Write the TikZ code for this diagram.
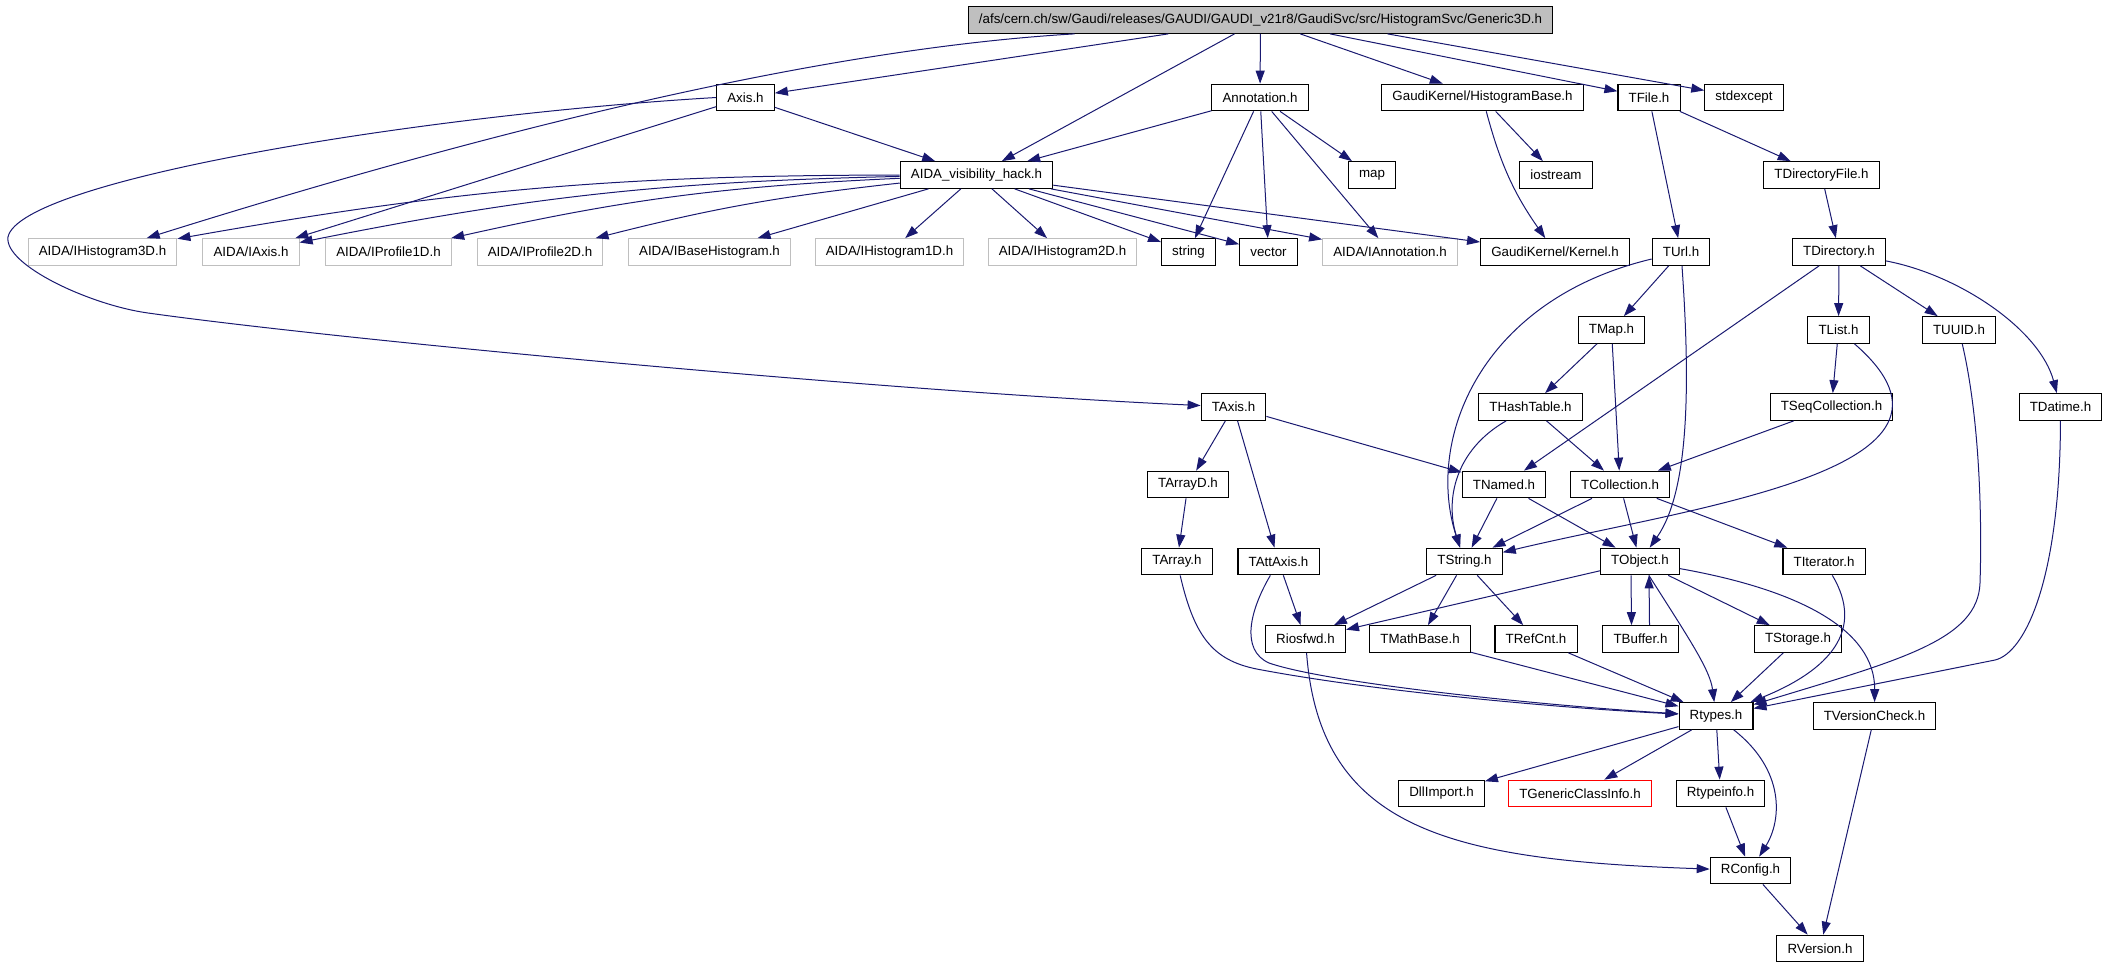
\documentclass[tikz,border=0pt]{standalone}
\usepackage{fontspec}
\setmainfont{Liberation Sans}
\usepackage{tikz}
\usetikzlibrary{arrows.meta,calc}
\definecolor{edgeblue}{HTML}{191970}
\definecolor{boxgrey}{HTML}{BFBFBF}

\begin{document}
\begin{tikzpicture}[x=0.75pt,y=-0.75pt,
  hdr/.style={draw=black,line width=0.8pt,minimum height=20pt,inner xsep=8pt,inner ysep=0pt,font=\fontsize{10pt}{12pt}\selectfont},
  ext/.style={hdr,draw=boxgrey},
  miss/.style={hdr,draw=red},
  dep/.style={edgeblue,line width=0.75pt,-{Triangle[length=9.75pt,width=6.75pt]}}]
\useasboundingbox (0,0) rectangle (2108,968);
% rows of headers
\node[hdr,fill=boxgrey] (gen) at (1260.5,20) {/afs/cern.ch/sw/Gaudi/releases/GAUDI/GAUDI\_v21r8/GaudiSvc/src/HistogramSvc/Generic3D.h};
\node[hdr] (axis) at (745.5,97.5) {Axis.h};
\node[hdr] (annot) at (1260,97.5) {Annotation.h};
\node[hdr] (hbase) at (1482.5,97.5) {GaudiKernel/HistogramBase.h};
\node[hdr] (tfile) at (1649,97.5) {TFile.h};
\node[hdr] (stdexc) at (1744,97.5) {stdexcept};
\node[hdr] (vis) at (976.5,175) {AIDA\_visibility\_hack.h};
\node[hdr] (map) at (1372,175) {map};
\node[hdr] (iostream) at (1556,175) {iostream};
\node[hdr] (tdirfile) at (1821.5,175) {TDirectoryFile.h};
\node[ext] (hist3) at (102.5,252) {AIDA/IHistogram3D.h};
\node[ext] (iaxis) at (251,252) {AIDA/IAxis.h};
\node[ext] (iprof1) at (388.5,252) {AIDA/IProfile1D.h};
\node[ext] (iprof2) at (540,252) {AIDA/IProfile2D.h};
\node[ext] (ibase) at (709.5,252) {AIDA/IBaseHistogram.h};
\node[ext] (hist1) at (889.5,252) {AIDA/IHistogram1D.h};
\node[ext] (hist2) at (1062.5,252) {AIDA/IHistogram2D.h};
\node[hdr] (string) at (1188.5,252) {string};
\node[hdr] (vector) at (1268.5,252) {vector};
\node[ext] (iannot) at (1390,252) {AIDA/IAnnotation.h};
\node[hdr] (kernel) at (1555,252) {GaudiKernel/Kernel.h};
\node[hdr] (turl) at (1681,252) {TUrl.h};
\node[hdr] (tdir) at (1839,252) {TDirectory.h};
\node[hdr] (tmap) at (1611.5,330) {TMap.h};
\node[hdr] (tlist) at (1838.5,330) {TList.h};
\node[hdr] (tuuid) at (1959,330) {TUUID.h};
\node[hdr] (taxis) at (1233.5,407) {TAxis.h};
\node[hdr] (thash) at (1530.5,407) {THashTable.h};
\node[hdr] (tseq) at (1831.5,407) {TSeqCollection.h};
\node[hdr] (tdatime) at (2060.5,407) {TDatime.h};
\node[hdr] (tarrayd) at (1188,484.5) {TArrayD.h};
\node[hdr] (tnamed) at (1504,484.5) {TNamed.h};
\node[hdr] (tcoll) at (1620,484.5) {TCollection.h};
\node[hdr] (tarray) at (1177,561.5) {TArray.h};
\node[hdr] (tattaxis) at (1278.5,561.5) {TAttAxis.h};
\node[hdr] (tstring) at (1464.5,561.5) {TString.h};
\node[hdr] (tobject) at (1640,561.5) {TObject.h};
\node[hdr] (titer) at (1824,561.5) {TIterator.h};
\node[hdr] (riosfwd) at (1305.5,639) {Riosfwd.h};
\node[hdr] (tmathbase) at (1420,639) {TMathBase.h};
\node[hdr] (trefcnt) at (1536,639) {TRefCnt.h};
\node[hdr] (tbuffer) at (1640.5,639) {TBuffer.h};
\node[hdr] (tstorage) at (1798,639) {TStorage.h};
\node[hdr] (rtypes) at (1716,716) {Rtypes.h};
\node[hdr] (tversion) at (1874.5,716) {TVersionCheck.h};
\node[hdr] (dllimport) at (1441.5,793.5) {DllImport.h};
\node[miss] (tgeneric) at (1580,793.5) {TGenericClassInfo.h};
\node[hdr] (rtypeinfo) at (1720.5,793.5) {Rtypeinfo.h};
\node[hdr] (rconfig) at (1750.5,870.5) {RConfig.h};
\node[hdr] (rversion) at (1820,948.5) {RVersion.h};
% includes of Generic3D.h
\draw[dep] (gen) -- (axis);
\draw[dep] ($(gen.south)+(-186,0)$) .. controls (800,50) and (450,143) .. (hist3);
\draw[dep] ($(gen.south)+(-26,0)$) -- (vis);
\draw[dep] (gen) -- (annot);
\draw[dep] (gen) -- (hbase);
\draw[dep] (gen) -- (tfile);
\draw[dep] ($(gen.south)+(127,0)$) -- (stdexc);
% Axis.h
\draw[dep] (axis) -- (vis);
\draw[dep] (axis) -- (iaxis);
\draw[dep] (axis.west) .. controls (420,115) and (20,180) .. (8,237) .. controls (4,265) and (90,305) .. (148,313) .. controls (348,341) and (900,392) .. (taxis);
% Annotation.h
\draw[dep] (annot) -- (vis);
\draw[dep] (annot) -- (string);
\draw[dep] (annot) -- (vector);
\draw[dep] (annot) -- (map);
\draw[dep] (annot) -- (iannot);
% AIDA_visibility_hack.h
\draw[dep] (vis) to[bend right=5] (hist3);
\draw[dep] (vis) to[bend right=5] (iaxis);
\draw[dep] (vis) to[bend right=5] (iprof1);
\draw[dep] (vis) to[bend right=4] (iprof2);
\draw[dep] (vis) -- (ibase);
\draw[dep] (vis) -- (hist1);
\draw[dep] (vis) -- (hist2);
\draw[dep] (vis) -- (string);
\draw[dep] (vis) -- (vector);
\draw[dep] (vis) -- (iannot);
\draw[dep] (vis) -- (kernel);
% GaudiKernel/HistogramBase.h
\draw[dep] (hbase) -- (iostream);
\draw[dep] (hbase) to[bend right=10] (kernel);
% TFile.h and below
\draw[dep] (tfile) -- (turl);
\draw[dep] (tfile) -- (tdirfile);
\draw[dep] (tdirfile) -- (tdir);
\draw[dep] (turl) .. controls (1480,300) and (1425,440) .. (tstring);
\draw[dep] (turl) -- (tmap);
\draw[dep] (turl) .. controls (1690,380) and (1690,490) .. (tobject);
\draw[dep] (tdir) -- (tnamed);
\draw[dep] (tdir) -- (tlist);
\draw[dep] (tdir) -- (tuuid);
\draw[dep] (tdir) .. controls (1960,275) and (2040,330) .. (tdatime);
\draw[dep] (tmap) -- (thash);
\draw[dep] (tmap) -- (tcoll);
\draw[dep] (tlist) -- (tseq);
\draw[dep] (tlist) .. controls (2000,470) and (1692,507) .. (tstring);
\draw[dep] (tuuid) .. controls (1980,420) and (1982,520) .. (1980,583) .. controls (1978,640) and (1900,660) .. (rtypes);
\draw[dep] (tdatime) .. controls (2060,580) and (2025,653) .. (1995,660) -- (rtypes);
\draw[dep] (thash) -- (tcoll);
\draw[dep] (thash) .. controls (1455,450) and (1445,500) .. (tstring);
\draw[dep] (tseq) -- (tcoll);
% TAxis.h
\draw[dep] (taxis) -- (tarrayd);
\draw[dep] (taxis) -- (tattaxis);
\draw[dep] (taxis) -- (tnamed);
\draw[dep] (tarrayd) -- (tarray);
\draw[dep] (tnamed) -- (tstring);
\draw[dep] (tnamed) -- (tobject);
\draw[dep] (tcoll) -- (tstring);
\draw[dep] (tcoll) -- (tobject);
\draw[dep] (tcoll) -- (titer);
% down to Rtypes.h
\draw[dep] (tarray) .. controls (1195,640) and (1215,662) .. (1262,670) .. controls (1380,692) and (1560,708) .. (rtypes);
\draw[dep] (tattaxis) .. controls (1250,610) and (1240,650) .. (1269,663) .. controls (1330,684) and (1550,706) .. (rtypes);
\draw[dep] (tattaxis) -- (riosfwd);
\draw[dep] (tstring) -- (riosfwd);
\draw[dep] (tstring) -- (tmathbase);
\draw[dep] (tstring) -- (trefcnt);
\draw[dep] (tobject) -- (riosfwd);
\draw[dep] ([xshift=-6.75pt]tobject.south) -- ([xshift=-6.75pt]tbuffer.north);
\draw[dep] ([xshift=6.75pt]tbuffer.north) -- ([xshift=6.75pt]tobject.south);
\draw[dep] (tobject) -- (tstorage);
\draw[dep] (tobject) .. controls (1690,640) and (1710,670) .. (rtypes);
\draw[dep] (tobject) .. controls (1800,590) and (1875,630) .. (tversion);
\draw[dep] (titer) .. controls (1865,630) and (1830,670) .. (rtypes);
\draw[dep] (riosfwd) .. controls (1320,830) and (1450,860) .. (rconfig);
\draw[dep] (tmathbase) -- (rtypes);
\draw[dep] (trefcnt) -- (rtypes);
\draw[dep] (tstorage) -- (rtypes);
% Rtypes.h
\draw[dep] (rtypes) -- (dllimport);
\draw[dep] (rtypes) -- (tgeneric);
\draw[dep] (rtypes) -- (rtypeinfo);
\draw[dep] (rtypes) .. controls (1785,770) and (1782,820) .. (rconfig);
\draw[dep] (rtypeinfo) -- (rconfig);
\draw[dep] (rconfig) -- (rversion);
\draw[dep] (tversion) -- (rversion);
\end{tikzpicture}
\end{document}
